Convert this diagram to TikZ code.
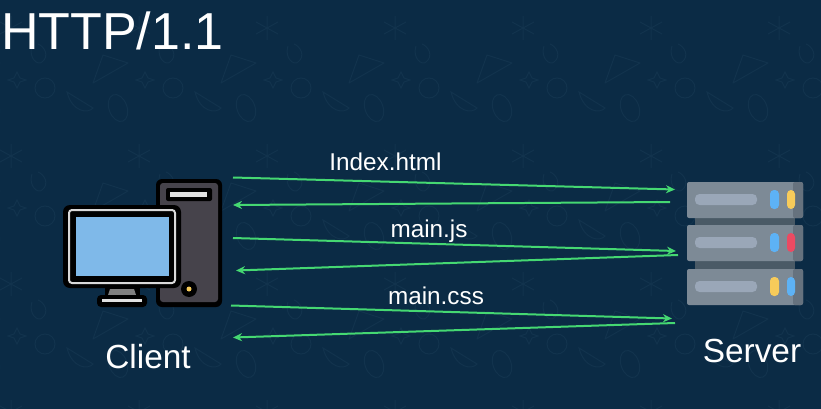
\documentclass[tikz,border=0pt]{standalone}
\usepackage{fontspec}
\setmainfont{Liberation Sans}
\usetikzlibrary{arrows.meta}
\definecolor{bgc}{HTML}{0B2B45}
\definecolor{motif}{HTML}{12334D}
\definecolor{wire}{HTML}{45D872}
\definecolor{tower}{HTML}{46434B}
\definecolor{scr}{HTML}{7FB9E9}
\definecolor{unit}{HTML}{7D8A96}
\definecolor{unitdark}{HTML}{66727E}
\definecolor{link}{HTML}{4A5A66}
\definecolor{pill}{HTML}{9AA7B8}
\definecolor{ledb}{HTML}{5DB2F5}
\definecolor{ledy}{HTML}{F7CB5A}
\definecolor{ledr}{HTML}{EB4A62}
\tikzset{
  wirearrow/.style={draw=wire,line width=2pt,-{Stealth[length=9pt,width=8pt]}},
  label/.style={text=white,inner sep=0pt,anchor=base},
  motifline/.style={draw=motif,line width=1pt},
  ink/.style={fill=black,rounded corners=4pt},
  unitbox/.style={fill=unit,rounded corners=2pt},
  pillbar/.style={fill=pill,rounded corners=4.5pt},
  led/.style={rounded corners=4pt}
}
\newcommand{\serverunit}[3]{%
  \fill[unitbox] (687,#1) rectangle (803,#1+36);
  \fill[unitdark,rounded corners=2pt] (793,#1) rectangle (803,#1+36);
  \fill[pillbar] (695,#1+12) rectangle (757,#1+23);
  \fill[led,#2] (770,#1+8) rectangle (779,#1+27);
  \fill[led,#3] (787,#1+8) rectangle (795,#1+27);
}
\begin{document}
\begin{tikzpicture}[x=1pt,y=-1pt]
\useasboundingbox (0,0) rectangle (821,409);
\fill[bgc] (0,0) rectangle (821,409);
% faint wallpaper
\foreach \i in {-1,...,6}{\foreach \j in {-1,...,3}{
  \begin{scope}[shift={(\i*128,\j*128)}]
    \draw[motifline] (45,88) circle[radius=10];
    \draw[motifline,line join=round] (93,83) -- (103,55) -- (128,63) -- cycle;
    \draw[motifline] (67,92) .. controls (72,112) and (88,114) .. (93,108) -- cycle;
    \draw[motifline,rotate around={20:(118,108)}] (118,108) ellipse[x radius=9,y radius=14];
    \draw[motifline] (17,72) -- (14,78) -- (8,80) -- (14,82) -- (17,88) -- (20,82) -- (26,80) -- (20,78) -- cycle;
    \draw[motifline] (11,16) -- (11,40) (0,22) -- (22,34) (0,34) -- (22,22);
    \draw[motifline] (32,46) .. controls (28,58) and (38,66) .. (42,62) .. controls (50,56) and (44,46) .. (38,44);
  \end{scope}}}
% title
\node[label,anchor=base west,font=\fontsize{52}{52}\selectfont] (title) at (1,50) {HTTP/1.1};
% client icon
\fill[ink,rounded corners=6pt] (156,179) rectangle (222,307);
\fill[tower,rounded corners=3pt] (160,183) rectangle (218,302);
\fill[black,rounded corners=2pt] (166,188) rectangle (212,201);
\fill[white!88!black] (170,192) rectangle (207,197);
\fill[black] (189,289) circle[radius=8];
\fill[ledy] (189,289) circle[radius=2.5];
\fill[black] (105,285) rectangle (140,297);
\fill[gray] (110,289) -- (134,289) -- (136,295) -- (108,295) -- cycle;
\fill[ink] (97,295) rectangle (147,307);
\fill[white!88!black] (102,299) rectangle (142,302);
\fill[ink,rounded corners=7pt] (63,205) rectangle (181,288);
\draw[white!85!black,line width=2pt,rounded corners=3pt] (69,210) rectangle (175,283);
\fill[scr] (76,217) rectangle (169,276);
\node[label,font=\fontsize{33.4}{34}\selectfont] (client) at (148,368) {Client};
% server icon
\fill[link] (695,215) rectangle (795,272);
\serverunit{182}{ledb}{ledy}
\serverunit{225}{ledb}{ledr}
\serverunit{269}{ledy}{ledb}
\node[label,font=\fontsize{33.4}{34}\selectfont] (server) at (752,362) {Server};
% connector ends
\coordinate (c1) at (233,177.5); \coordinate (s1) at (675,189.5);
\coordinate (s2) at (670,202);   \coordinate (c2) at (233,205);
\coordinate (c3) at (233,238);   \coordinate (s3) at (676,251);
\coordinate (s4) at (678,255);   \coordinate (c4) at (236,270.5);
\coordinate (c5) at (231,305.5); \coordinate (s5) at (672,318.5);
\coordinate (s6) at (675,323);   \coordinate (c6) at (233,337.5);
\draw[wirearrow] (c1) -- (s1);
\draw[wirearrow] (s2) -- (c2);
\draw[wirearrow] (c3) -- (s3);
\draw[wirearrow] (s4) -- (c4);
\draw[wirearrow] (c5) -- (s5);
\draw[wirearrow] (s6) -- (c6);
% labels
\node[label,font=\fontsize{24.3}{25}\selectfont] (m1) at (385.5,170) {Index.html};
\node[label,font=\fontsize{24.3}{25}\selectfont] (m2) at (429,237) {main.js};
\node[label,font=\fontsize{24.3}{25}\selectfont] (m3) at (436,304) {main.css};
\end{tikzpicture}
\end{document}
